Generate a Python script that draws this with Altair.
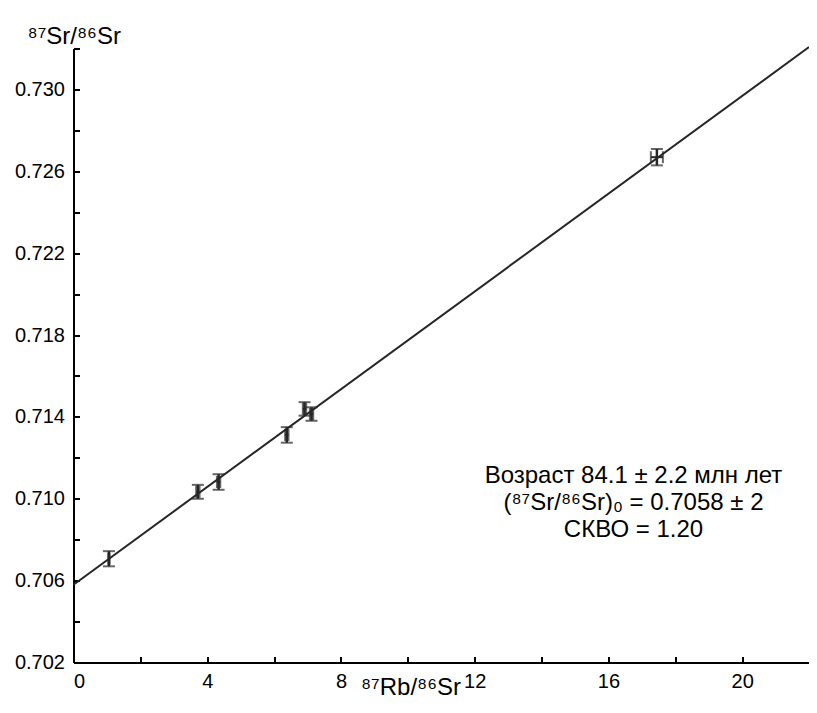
import altair as alt
import pandas as pd

# ---- data ----
x_vals = [1.06, 3.72, 4.34, 6.38, 6.91, 7.12, 17.45]
y_vals = [0.70707, 0.71034, 0.71082, 0.71312, 0.71439, 0.71414, 0.72669]
y_err = [0.00037, 0.00034, 0.00038, 0.00038, 0.00033, 0.00033, 0.00040]
x_err = [0.02, 0.05, 0.05, 0.05, 0.05, 0.05, 0.18]

fit_x = [0, 22]
fit_y = [0.7058, 0.73207]

x_label_ticks = [0, 4, 8, 12, 16, 20]
x_all_ticks = [0, 2, 4, 6, 8, 10, 12, 14, 16, 18, 20, 22]
y_label_ticks = [0.702, 0.706, 0.710, 0.714, 0.718, 0.722, 0.726, 0.730]
y_all_ticks = [0.702, 0.704, 0.706, 0.708, 0.710, 0.712, 0.714, 0.716,
               0.718, 0.720, 0.722, 0.724, 0.726, 0.728, 0.730, 0.732]

ann_lines = ["Возраст 84.1 ± 2.2 млн лет",
             "(⁸⁷Sr/⁸⁶Sr)₀ = 0.7058 ± 2",
             "СКВО = 1.20"]
ann_x = [16.75, 16.75, 16.75]
ann_y = [0.71078, 0.70946, 0.70814]

x_title = "⁸⁷Rb/⁸⁶Sr"
y_title = "⁸⁷Sr/⁸⁶Sr"

# ---- build tables ----
pts = pd.DataFrame({"x": x_vals, "y": y_vals, "ye": y_err, "xe": x_err})
pts["ylo"] = pts["y"] - pts["ye"]
pts["yhi"] = pts["y"] + pts["ye"]
pts["xlo"] = pts["x"] - pts["xe"]
pts["xhi"] = pts["x"] + pts["xe"]
fit = pd.DataFrame({"x": fit_x, "y": fit_y})
ann = pd.DataFrame({"t": ann_lines, "x": ann_x, "y": ann_y})

F = "Liberation Sans"
INK = "#262626"
W, H = 735.5, 614

xs = alt.Scale(domain=[0, 22], nice=False, zero=False)
ys = alt.Scale(domain=[0.702, 0.732], nice=False, zero=False)

x_axis = alt.Axis(values=x_label_ticks, format="d", ticks=False, grid=False,
                  domainColor="black", domainWidth=2, labelFont=F, labelFontSize=20,
                  labelColor="black", labelPadding=9, title=x_title, titleFont=F,
                  titleFontSize=24, titleFontWeight="normal", titleColor="black",
                  titleX=337, titleY=32, titleAlign="center",
                  titleBaseline="alphabetic", orient="bottom")
y_axis = alt.Axis(values=y_label_ticks, format=".3f", ticks=False, grid=False,
                  domainColor="black", domainWidth=2, labelFont=F, labelFontSize=20,
                  labelColor="black", labelPadding=9, title=y_title, titleFont=F,
                  titleFontSize=24, titleFontWeight="normal", titleColor="black",
                  titleAngle=0, titleX=-46.5, titleY=-5.5, titleAlign="left",
                  titleBaseline="alphabetic", orient="left")

X = lambda f: alt.X(f, type="quantitative", scale=xs, axis=x_axis)
Y = lambda f: alt.Y(f, type="quantitative", scale=ys, axis=y_axis)

line = alt.Chart(fit).mark_line(color=INK, strokeWidth=2).encode(x=X("x"), y=Y("y"))

vbar = alt.Chart(pts).mark_rule(color=INK, strokeWidth=2.5).encode(
    x=X("x"), y=Y("ylo"), y2="yhi")
hbar = alt.Chart(pts).mark_rule(color=INK, strokeWidth=2).encode(
    x=X("xlo"), x2="xhi", y=Y("y"))
cap_lo = alt.Chart(pts).mark_tick(color=INK, orient="horizontal", size=12,
                                  thickness=2).encode(x=X("x"), y=Y("ylo"))
cap_hi = alt.Chart(pts).mark_tick(color=INK, orient="horizontal", size=12,
                                  thickness=2).encode(x=X("x"), y=Y("yhi"))
cap_l = alt.Chart(pts).mark_tick(color=INK, orient="vertical", size=12,
                                 thickness=2).encode(x=X("xlo"), y=Y("y"))
cap_r = alt.Chart(pts).mark_tick(color=INK, orient="vertical", size=12,
                                 thickness=2).encode(x=X("xhi"), y=Y("y"))

text = alt.Chart(ann).mark_text(font=F, fontSize=24, align="center",
                                baseline="alphabetic", color="black").encode(
    x=X("x"), y=Y("y"), text="t")

main = alt.layer(line, vbar, hbar, cap_lo, cap_hi, cap_l, cap_r, text)

# inward ticks: a second pair of axes shifted into the plot
x_tick_axis = alt.Axis(values=x_all_ticks, offset=-6, tickSize=6, tickWidth=2,
                       tickColor="black", labels=False, domain=False, grid=False,
                       title=None, orient="bottom")
y_tick_axis = alt.Axis(values=y_all_ticks, offset=-6, tickSize=6, tickWidth=2,
                       tickColor="black", labels=False, domain=False, grid=False,
                       title=None, orient="left")
tick_layer = alt.Chart(fit).mark_line(opacity=0).encode(
    x=alt.X("x", type="quantitative", scale=xs, axis=x_tick_axis),
    y=alt.Y("y", type="quantitative", scale=ys, axis=y_tick_axis))

chart = alt.layer(main, tick_layer).resolve_scale(
    x="independent", y="independent"
).properties(
    width=W, height=H,
    autosize=alt.AutoSizeParams(type="none"),
    padding={"left": 65.5, "top": 40.5, "right": 0, "bottom": 37},
    background="white",
).configure_view(stroke=None)

chart.save("out.html", embed_options={"renderer": "svg", "actions": False})
